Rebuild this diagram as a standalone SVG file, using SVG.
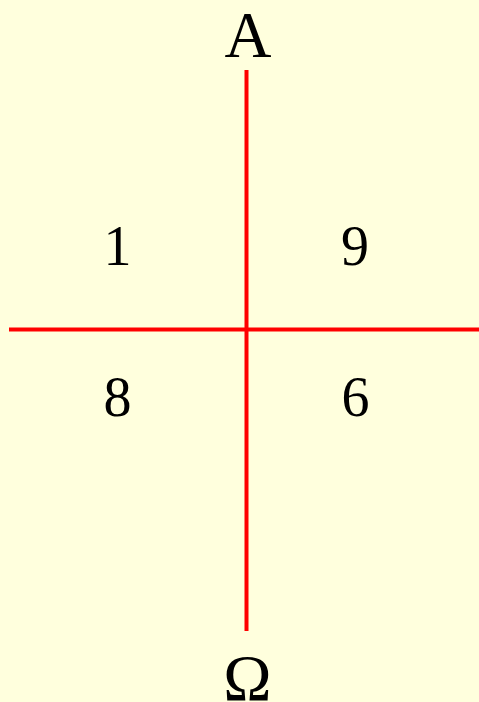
<svg xmlns="http://www.w3.org/2000/svg" width="479" height="702" viewBox="0 0 479 702">
<style>
.t{font-family:"Liberation Serif","Times New Roman",serif;fill:#000;text-anchor:middle}
.big{font-size:65px}
.num{font-size:56px}
.ax{stroke:#ff0000;stroke-width:4;fill:none}
</style>
<rect width="479" height="702" fill="#ffffdd"/>
<g id="connectors">
<line class="ax" x1="246.5" y1="70" x2="246.5" y2="631"/>
<line class="ax" x1="9" y1="329.5" x2="479" y2="329.5"/>
</g>
<g id="A"><text class="t big" x="248" y="57">A</text></g>
<g id="Omega"><text class="t big" x="247.5" y="700">Ω</text></g>
<g id="n1"><text class="t num" x="117.5" y="265">1</text></g>
<g id="n9"><text class="t num" x="355" y="265">9</text></g>
<g id="n8"><text class="t num" x="117.5" y="416">8</text></g>
<g id="n6"><text class="t num" x="355.5" y="416">6</text></g>
</svg>
